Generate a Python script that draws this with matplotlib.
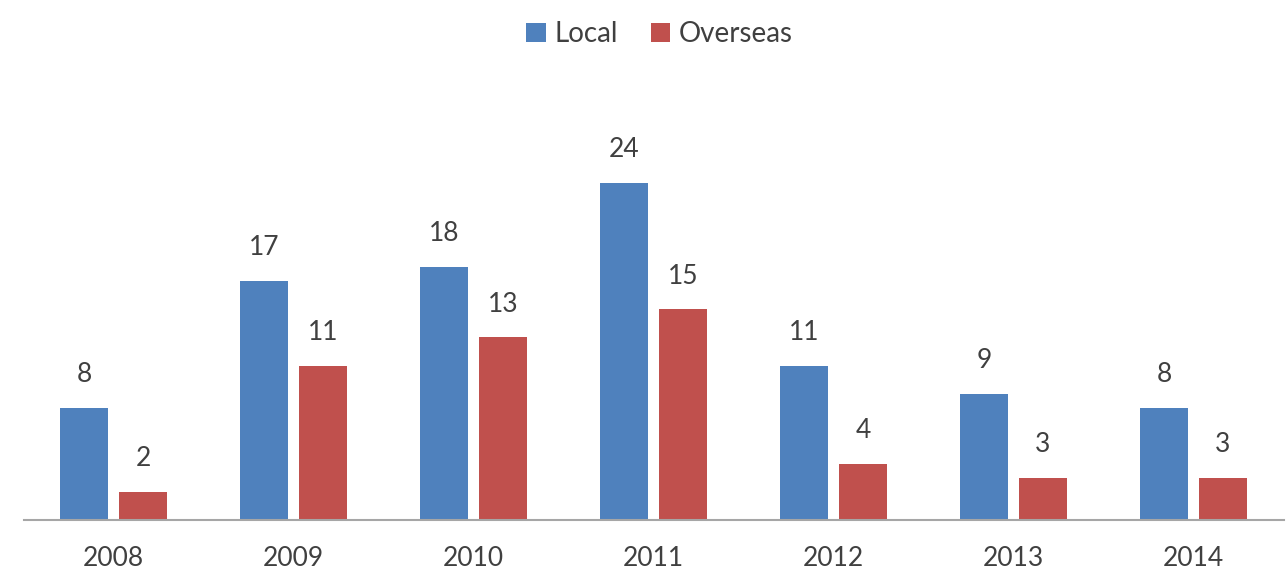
import matplotlib.pyplot as plt
import numpy as np

years = ["2008", "2009", "2010", "2011", "2012", "2013", "2014"]
local = [8, 17, 18, 24, 11, 9, 8]
overseas = [2, 11, 13, 15, 4, 3, 3]

plt.rcParams["font.family"] = ["Lato", "DejaVu Sans"]

fig = plt.figure(figsize=(12.88, 5.72), dpi=100)
ax = fig.add_axes([23.5 / 1288, 52 / 572, 1260 / 1288, 445 / 572])

x = np.arange(len(years))
w = 0.267
off = 0.164
b1 = ax.bar(x - off, local, w, color="#4F81BD", label="Local")
b2 = ax.bar(x + off, overseas, w, color="#C0504D", label="Overseas")

for bars, vals in ((b1, local), (b2, overseas)):
    for rect, v in zip(bars, vals):
        ax.annotate(str(v), (rect.get_x() + rect.get_width() / 2, rect.get_height()),
                    xytext=(0, 15), textcoords="offset points",
                    ha="center", va="bottom", fontsize=19, color="#404040")

ax.set_xlim(-0.5, len(years) - 0.5)
ax.set_ylim(0, 445 / 14.04)
ax.set_xticks(x)
ax.set_xticklabels(years, fontsize=19, color="#404040")
ax.tick_params(axis="x", length=0, pad=19)
ax.set_yticks([])
for s in ("top", "left", "right"):
    ax.spines[s].set_visible(False)
ax.spines["bottom"].set_color("#A6A6A6")
ax.spines["bottom"].set_linewidth(1.5)

fig.legend(loc="center", bbox_to_anchor=(0.512, 1 - 34 / 572), ncol=2, frameon=False,
           fontsize=20, handlelength=0.7, handleheight=0.7, handletextpad=0.3,
           columnspacing=1.2, labelcolor="#404040")

plt.savefig("out.png", dpi=100)
